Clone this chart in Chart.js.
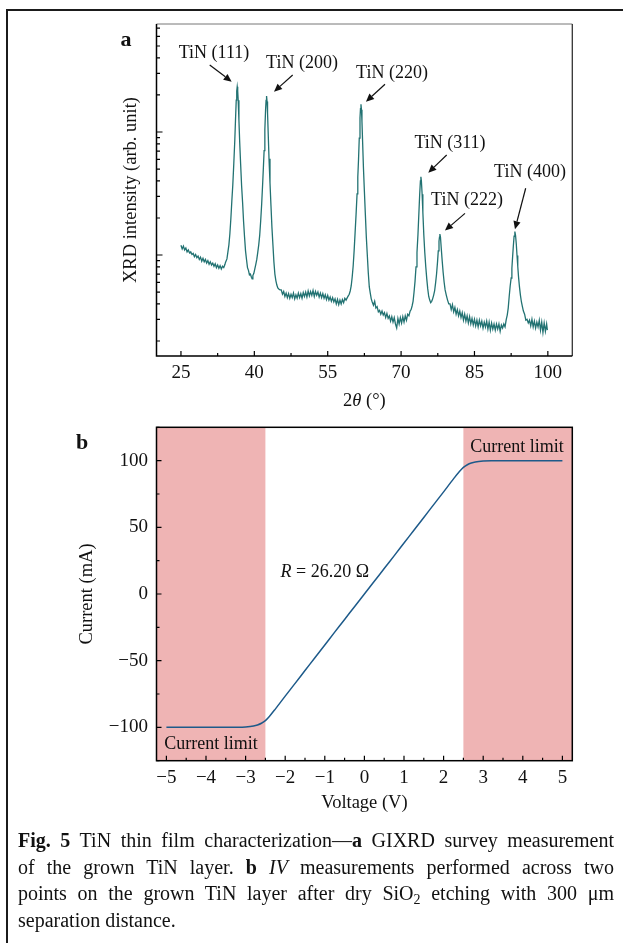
<!DOCTYPE html>
<html>
<head>
<meta charset="utf-8">
<script src="https://cdn.jsdelivr.net/npm/chart.js@4.4.1/dist/chart.umd.min.js"></script>
<style>
html,body{margin:0;padding:0;background:#fff;}
body{width:623px;height:943px;position:relative;overflow:hidden;font-family:"Liberation Serif","Times New Roman",serif;}
#frame{position:absolute;left:6px;top:9px;width:660px;height:980px;border-top:2px solid #1b1b1b;border-left:2px solid #1b1b1b;}
#ca{position:absolute;left:0;top:0;}
#cb{position:absolute;left:0;top:405px;}
.cap{position:absolute;left:18px;width:596px;font-size:20px;line-height:26.6px;color:#111;}
.cap .l{text-align:justify;text-align-last:justify;}
.cap sub{font-size:0.7em;line-height:0;vertical-align:-0.25em;}
</style>
</head>
<body>
<div id="frame"></div>
<canvas id="ca" width="623" height="420"></canvas>
<canvas id="cb" width="623" height="415"></canvas>
<div class="cap" style="top:827px">
<div class="l"><b>Fig. 5</b> TiN thin film characterization—<b>a</b> GIXRD survey measurement</div>
<div class="l">of the grown TiN layer. <b>b</b> <i>IV</i> measurements performed across two</div>
<div class="l">points on the grown TiN layer after dry SiO<sub>2</sub> etching with 300 μm</div>
<div>separation distance.</div>
</div>
<script>
// ---------------- DATA: (a) GIXRD scan ----------------
const xrdAngle = [
  25,25.25,25.5,25.75,26,26.25,26.5,26.75,27,27.25,
  27.5,27.75,28,28.25,28.5,28.75,29,29.25,29.5,29.75,
  30,30.25,30.5,30.75,31,31.25,31.5,31.75,32,32.25,
  32.5,32.75,33,33.25,33.5,33.75,34,
  34.1,34.4,34.6,34.8,35,35.2,35.4,35.6,35.8,36,
  36.15,36.3,36.4,36.5,36.6,36.7,36.85,37,37.2,37.4,
  37.6,37.8,38,38.2,38.4,38.6,38.8,39,39.2,39.4,
  39.55,
  39.7,39.9,40.1,40.3,40.5,40.7,40.9,41.1,41.3,41.5,
  41.7,41.85,42,42.15,42.3,42.4,42.5,42.6,42.7,42.85,
  43,43.2,43.4,43.6,43.8,44,44.2,44.4,44.6,44.8,
  45,45.25,
  45.5,45.75,46,46.25,46.5,46.75,47,47.25,47.5,47.75,
  48,48.25,48.5,48.75,49,49.25,49.5,49.75,50,50.25,
  50.5,50.75,51,51.25,51.5,51.75,52,52.25,52.5,52.75,
  53,53.25,53.5,53.75,54,54.25,54.5,54.75,55,55.25,
  55.5,55.75,56,56.25,56.5,56.75,57,57.25,57.5,57.75,
  58,58.25,58.5,58.75,
  59,59.2,59.4,59.6,59.8,60,60.2,60.4,60.6,60.8,
  61,61.15,61.3,61.45,61.6,61.7,61.8,61.9,62,62.15,
  62.3,62.5,62.7,62.9,63.1,63.3,63.5,63.7,63.9,
  64.1,64.35,64.6,64.85,65.1,65.35,65.6,65.85,66.1,66.35,
  66.6,66.85,67.1,67.35,67.6,67.85,68.1,68.35,68.6,68.85,
  69.1,69.35,69.6,69.85,70.1,70.35,70.6,70.85,71.1,71.35,
  71.6,71.85,
  72.05,72.25,72.45,72.65,72.85,73.05,73.25,73.45,73.65,73.8,
  73.95,74.05,74.15,74.3,74.45,74.65,74.85,75.05,75.25,75.45,
  75.65,75.85,76.05,76.25,76.45,76.65,76.85,77.05,77.25,77.45,
  77.6,77.75,77.85,77.93,78.05,78.2,78.4,78.6,78.8,79,
  79.25,79.5,79.75,
  80,80.25,80.5,80.75,81,81.25,81.5,81.75,82,82.25,
  82.5,82.75,83,83.25,83.5,83.75,84,84.25,84.5,84.75,
  85,85.25,85.5,85.75,86,86.25,86.5,86.75,87,87.25,
  87.5,87.75,88,88.25,88.5,88.75,89,89.25,89.5,89.75,
  90,90.25,90.5,90.75,91,91.25,
  91.5,91.7,91.9,92.1,92.3,92.5,92.65,92.8,92.95,93.1,
  93.26,93.4,93.55,93.7,93.85,94,94.2,94.4,94.6,94.8,
  95,
  95.25,95.5,95.75,96,96.25,96.5,96.75,97,97.25,97.5,
  97.75,98,98.25,98.5,98.75,99,99.25,99.5,99.75,99.9
];
const xrdIntensity = [
  120,112,118,110,114,106,110,104,106,101,
  103,97,101,95,98,92,96,89,94,88,
  92,86,90,84,88,83,86,81,85,79,
  83,78,82,77,81,79,84,
  87,93,106,121,149,197,275,372,552,844,
  1251,1815,2154,2335,2153,1814,1249,840,546,364,
  267,187,140,108,92,79,75,69,70,66,
  64,
  68,71,77,84,92,105,121,145,190,260,
  380,515,706,1047,1524,1810,1963,1770,1427,931,
  606,387,253,167,121,88,70,62,57,54,
  53,52,
  52,48,50.5,46,49,45,48.5,44.5,48,45,
  49,44,47.5,44.5,49,45,48.5,44.5,49.5,46,
  50,45.5,51,46.5,50.5,47,51.5,46,50.5,47,
  50,45.5,49,45,48.5,44.5,47.5,43.5,47,43,
  45.5,42,45,41.5,44,40,43.5,39.5,43,40,
  43.5,41,44.5,43,
  45,46.5,48,51,56,66,81,108,152,215,
  314,430,598,893,1302,1548,1680,1515,1220,794,
  516,328,212,138,99,71,55,49,44,
  41.5,39,42,37,38,34.5,35.5,33,35,32.5,
  34,31,33.5,30.5,32,29,31.5,28.5,31,27.5,
  25.5,30.5,27.5,31,28,31.5,28.5,32,29.5,33,
  32,35,
  36,38.5,42,50,61,80,105,147,225,310,
  400,433,400,312,223,145,104,80,64,53,
  46,43,41,42,44,47,51,59,70,88,
  108,129,140,148,140,115,90,72,60,52,
  47,43,40,
  40,36,39.5,34.5,37.5,33,36,32,35,31,
  34,29.5,33,29,32,28,31.5,27.5,30.5,27,
  30,26.5,29.5,26,29.5,26.5,29,25.5,28.5,26,
  29,25,28.5,24.5,28,25,27.5,24.5,27.5,25,
  27.5,24,27,25.5,27.5,26,
  30,32.5,37,46,56,65,78,97,119,142,
  155,144,123,99,81,67,55,47,41.5,38,
  35,
  33,29.5,30,28,29.5,26.5,30,26,29,25.5,
  28.5,26,29.5,24.5,28.5,23.5,28,24,27.5,24.5
];
const xrdXTicks = [25, 40, 55, 70, 85, 100];
const xrdXMinorTicks = [32.5, 47.5, 62.5, 77.5, 92.5];
const xrdYMajorTicks = [100, 1000];
const xrdYMinorTicks = [20,30,40,50,60,70,80,90,200,300,400,500,600,700,800,900,2000,3000,4000,5000,6000,7000];
const xrdPeakLabels = ['TiN (111)','TiN (200)','TiN (220)','TiN (311)','TiN (222)','TiN (400)'];
const xrdLabelAt   = [[31.75,4385],[49.74,3639],[68.14,3020],[80.0,814],[83.47,280],[96.35,473]];
const xrdArrowFrom = [[30.88,3506],[47.84,2907],[66.71,2443],[79.32,650],[83.06,218],[95.47,349]];
const xrdArrowTo   = [[35.37,2564],[44.02,2126],[62.82,1764],[75.56,467],[78.97,158],[93.28,162]];

// ---------------- DATA: (b) I-V measurement ----------------
const ivVoltage = [-5,-4.75,-4.5,-4.25,-4,-3.75,-3.5,-3.25,-3,
  -2.8,-2.7,-2.6,-2.5,-2.4,
  -2.25,-2,-1.75,-1.5,-1.25,-1,-0.75,-0.5,-0.25,0,0.25,0.5,0.75,1,1.25,1.5,1.75,2,2.25,
  2.4,2.5,2.6,2.7,2.8,
  3,3.25,3.5,3.75,4,4.25,4.5,4.75,5];
const ivCurrent = [-100,-100,-100,-100,-100,-100,-100,-99.95,-99.7,
  -99.0,-98.2,-96.9,-94.9,-91.8,
  -86.3,-76.6,-67.0,-57.4,-47.8,-38.2,-28.6,-19.1,-9.5,0,9.5,19.1,28.6,38.2,47.8,57.4,67.0,76.6,86.3,
  91.8,94.9,96.9,98.2,99.0,
  99.7,99.95,100,100,100,100,100,100,100];
const ivXTicks = [-5,-4,-3,-2,-1,0,1,2,3,4,5];
const ivXTickLabels = ['\u22125','\u22124','\u22123','\u22122','\u22121','0','1','2','3','4','5'];
const ivXMinorTicks = [-4.5,-3.5,-2.5,-1.5,-0.5,0.5,1.5,2.5,3.5,4.5];
const ivYTicks = [-100,-50,0,50,100];
const ivYTickLabels = ['\u2212100','\u221250','0','50','100'];
const ivYMinorTicks = [-125,-75,-25,25,75,125];
const ivLimitBands = [[-5.25,-2.5],[2.5,5.25]];
const ivTexts = [
  {runs:[['Current limit','']], at:[3.854,110.2]},
  {runs:[['Current limit','']], at:[-3.874,-112.5]},
  {runs:[['R','italic'],[' = 26.20 \u03A9','']], at:[-1.0,16.5]}
];

// ---------------- STYLE ----------------
const FAMILY = '"Liberation Serif","Times New Roman",serif';
const INK = '#111';
const XRD_COLOR = '#227272';
const IV_COLOR = '#1d5a8a';
const BAND_COLOR = '#efb4b4';

function drawRuns(ctx, runs, cx, cy, size) {
  let total = 0;
  const ms = runs.map(r => { ctx.font = `${r[1]} ${size}px ${FAMILY}`; const w = ctx.measureText(r[0]).width; total += w; return w; });
  let x = cx - total / 2;
  ctx.textAlign = 'left'; ctx.textBaseline = 'middle'; ctx.fillStyle = INK;
  runs.forEach((r, i) => { ctx.font = `${r[1]} ${size}px ${FAMILY}`; ctx.fillText(r[0], x, cy); x += ms[i]; });
}
function arrow(ctx, x0, y0, x1, y1) {
  const a = Math.atan2(y1 - y0, x1 - x0), L = 8, H = 3.6;
  const bx = x1 - L * Math.cos(a), by = y1 - L * Math.sin(a);
  ctx.beginPath(); ctx.moveTo(x0, y0); ctx.lineTo(bx, by); ctx.stroke();
  ctx.beginPath();
  ctx.moveTo(x1, y1);
  ctx.lineTo(bx + H * Math.sin(a), by - H * Math.cos(a));
  ctx.lineTo(bx - H * Math.sin(a), by + H * Math.cos(a));
  ctx.closePath(); ctx.fill();
}
function inwardTicks(ctx, scale, values, len, area, horizontal) {
  ctx.beginPath();
  values.forEach(v => {
    const p = scale.getPixelForValue(v);
    if (horizontal) { ctx.moveTo(p, area.bottom); ctx.lineTo(p, area.bottom - len); }
    else { ctx.moveTo(area.left, p); ctx.lineTo(area.left + len, p); }
  });
  ctx.stroke();
}

const xrdDecor = {
  id: 'xrdDecor',
  afterDraw(chart) {
    const {ctx, chartArea: a, scales: {x, y}} = chart;
    ctx.save();
    ctx.lineWidth = 1; ctx.strokeStyle = '#777';
    ctx.beginPath(); ctx.moveTo(a.left, a.top); ctx.lineTo(a.right, a.top); ctx.stroke();
    ctx.strokeStyle = '#333'; ctx.lineWidth = 1.3;
    ctx.beginPath(); ctx.moveTo(a.right, a.top); ctx.lineTo(a.right, a.bottom); ctx.stroke();
    ctx.strokeStyle = '#000'; ctx.lineWidth = 1.5;
    ctx.beginPath(); ctx.moveTo(a.left, a.top); ctx.lineTo(a.left, a.bottom); ctx.lineTo(a.right, a.bottom); ctx.stroke();
    ctx.lineWidth = 1.2;
    inwardTicks(ctx, x, xrdXTicks, 5, a, true);
    inwardTicks(ctx, x, xrdXMinorTicks, 3, a, true);
    inwardTicks(ctx, y, xrdYMajorTicks, 6, a, false);
    inwardTicks(ctx, y, xrdYMinorTicks, 3.5, a, false);
    ctx.fillStyle = INK; ctx.strokeStyle = INK; ctx.lineWidth = 1.2;
    xrdPeakLabels.forEach((t, i) => {
      drawRuns(ctx, [[t, '']], x.getPixelForValue(xrdLabelAt[i][0]), y.getPixelForValue(xrdLabelAt[i][1]), 18);
      arrow(ctx, x.getPixelForValue(xrdArrowFrom[i][0]), y.getPixelForValue(xrdArrowFrom[i][1]),
                 x.getPixelForValue(xrdArrowTo[i][0]), y.getPixelForValue(xrdArrowTo[i][1]));
    });
    ctx.font = `bold 22px ${FAMILY}`; ctx.textAlign = 'center'; ctx.textBaseline = 'middle';
    ctx.fillText('a', 126, 40);
    drawRuns(ctx, [['2', ''], ['\u03B8', 'italic'], [' (\u00B0)', '']], (a.left + a.right) / 2, 401, 18.5);
    ctx.save(); ctx.translate(131, (a.top + a.bottom) / 2); ctx.rotate(-Math.PI / 2);
    drawRuns(ctx, [['XRD intensity (arb. unit)', '']], 0, 0, 18.5);
    ctx.restore();
    ctx.restore();
  }
};

const ivDecor = {
  id: 'ivDecor',
  beforeDatasetsDraw(chart) {
    const {ctx, chartArea: a, scales: {x}} = chart;
    ctx.save(); ctx.fillStyle = BAND_COLOR;
    ivLimitBands.forEach(b => {
      const x0 = x.getPixelForValue(b[0]), x1 = x.getPixelForValue(b[1]);
      ctx.fillRect(x0, a.top, x1 - x0, a.bottom - a.top);
    });
    ctx.restore();
  },
  afterDraw(chart) {
    const {ctx, chartArea: a, scales: {x, y}} = chart;
    ctx.save();
    ctx.strokeStyle = '#000'; ctx.lineWidth = 1.5;
    ctx.strokeRect(a.left, a.top, a.right - a.left, a.bottom - a.top);
    ctx.lineWidth = 1.2;
    inwardTicks(ctx, x, ivXTicks, 5, a, true);
    inwardTicks(ctx, x, ivXMinorTicks, 3, a, true);
    inwardTicks(ctx, y, ivYTicks, 5, a, false);
    inwardTicks(ctx, y, ivYMinorTicks, 3, a, false);
    ivTexts.forEach(t => drawRuns(ctx, t.runs, x.getPixelForValue(t.at[0]), y.getPixelForValue(t.at[1]), 18));
    ctx.fillStyle = INK;
    ctx.font = `bold 22px ${FAMILY}`; ctx.textAlign = 'center'; ctx.textBaseline = 'middle';
    ctx.fillText('b', 82, 38);
    drawRuns(ctx, [['Voltage (V)', '']], (a.left + a.right) / 2, 398, 18.5);
    ctx.save(); ctx.translate(87, (a.top + a.bottom) / 2); ctx.rotate(-Math.PI / 2);
    drawRuns(ctx, [['Current (mA)', '']], 0, 0, 18.5);
    ctx.restore();
    ctx.restore();
  }
};

const tickFont = {family: FAMILY, size: 19};

new Chart(document.getElementById('ca'), {
  type: 'line',
  data: {datasets: [{
    data: xrdAngle.map((v, i) => ({x: v, y: xrdIntensity[i]})),
    borderColor: XRD_COLOR, borderWidth: 1.3, pointRadius: 0, tension: 0, fill: false
  }]},
  options: {
    responsive: false, animation: false, devicePixelRatio: 1,
    layout: {padding: {left: 0, right: 50.7, top: 24, bottom: 0}},
    plugins: {legend: {display: false}, tooltip: {enabled: false}},
    scales: {
      x: {type: 'linear', min: 20, max: 105,
          grid: {display: false, drawTicks: false}, border: {display: false},
          afterBuildTicks: s => { s.ticks = xrdXTicks.map(v => ({value: v})); },
          afterFit: s => { s.height = 64; },
          ticks: {padding: 6, color: INK, font: tickFont, maxRotation: 0, autoSkip: false}},
      y: {type: 'logarithmic', min: 15.1, max: 7550,
          grid: {display: false, drawTicks: false}, border: {display: false},
          ticks: {display: false},
          afterFit: s => { s.width = 156.5; }}
    }
  },
  plugins: [xrdDecor]
});

new Chart(document.getElementById('cb'), {
  type: 'line',
  data: {datasets: [{
    data: ivVoltage.map((v, i) => ({x: v, y: ivCurrent[i]})),
    borderColor: IV_COLOR, borderWidth: 1.5, pointRadius: 0, cubicInterpolationMode: 'monotone', fill: false
  }]},
  options: {
    responsive: false, animation: false, devicePixelRatio: 1,
    layout: {padding: {left: 0, right: 50.7, top: 22.3, bottom: 0}},
    plugins: {legend: {display: false}, tooltip: {enabled: false}},
    scales: {
      x: {type: 'linear', min: -5.25, max: 5.25,
          grid: {display: false, drawTicks: false}, border: {display: false},
          afterBuildTicks: s => { s.ticks = ivXTicks.map(v => ({value: v})); },
          afterFit: s => { s.height = 59.3; },
          ticks: {padding: 6, color: INK, font: tickFont, maxRotation: 0, autoSkip: false,
                  callback: (v, i) => ivXTickLabels[i]}},
      y: {type: 'linear', min: -125, max: 125,
          grid: {display: false, drawTicks: false}, border: {display: false},
          afterBuildTicks: s => { s.ticks = ivYTicks.map(v => ({value: v})); },
          afterFit: s => { s.width = 156.5; },
          ticks: {padding: 8.5, color: INK, font: tickFont, autoSkip: false,
                  callback: (v, i) => ivYTickLabels[i]}}
    }
  },
  plugins: [ivDecor]
});
</script>
</body>
</html>
